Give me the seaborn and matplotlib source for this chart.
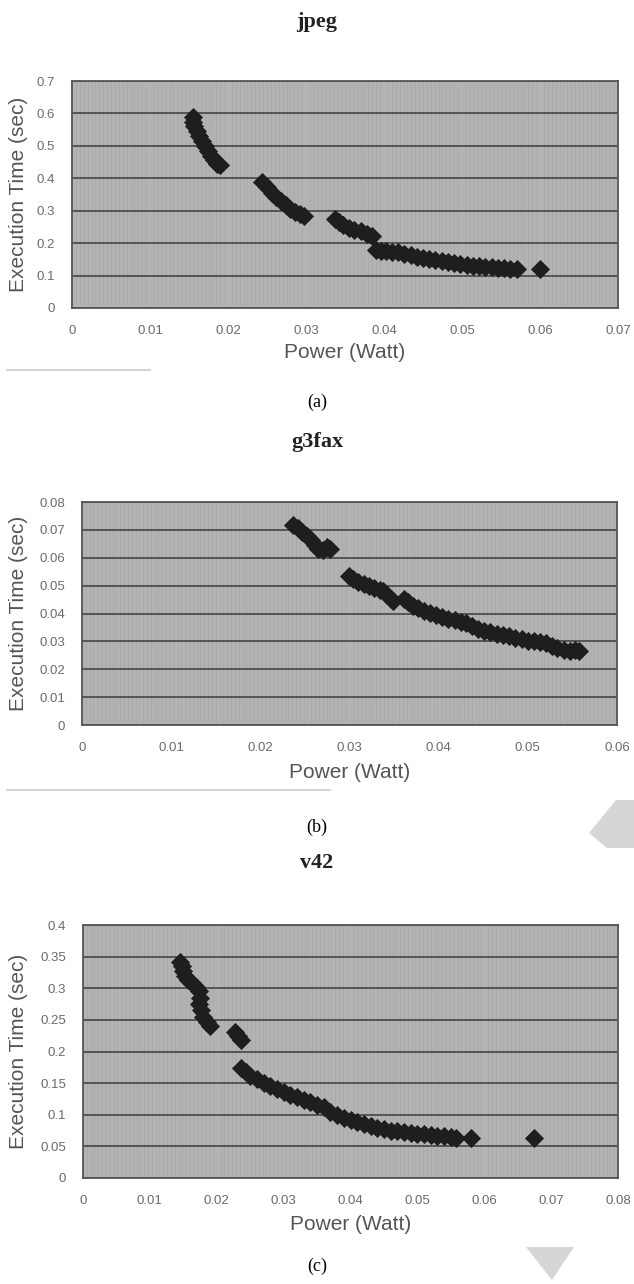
import matplotlib
matplotlib.use("Agg")
import matplotlib.pyplot as plt
import seaborn as sns
import pandas as pd
from matplotlib.patches import Polygon
from matplotlib.ticker import FuncFormatter, MultipleLocator

# ----------------------------
# Data
# ----------------------------
jpeg_power = [0.0155, 0.0155, 0.0157, 0.0160, 0.0163, 0.0167, 0.0170, 0.0174, 0.0178, 0.0182, 0.0186, 0.0190,
              0.0244, 0.0250, 0.0256, 0.0262, 0.0268, 0.0274, 0.0280, 0.0286, 0.0292, 0.0297,
              0.0337, 0.0342, 0.0348, 0.0355, 0.0362, 0.0370, 0.0378, 0.0385,
              0.0390, 0.0396, 0.0403, 0.0410, 0.0418, 0.0426, 0.0434, 0.0442, 0.0450, 0.0458, 0.0466,
              0.0474, 0.0482, 0.0490, 0.0498, 0.0506, 0.0514, 0.0522, 0.0530, 0.0538, 0.0546, 0.0554,
              0.0562, 0.0570, 0.0600]
jpeg_time = [0.590, 0.575, 0.560, 0.545, 0.530, 0.515, 0.500, 0.485, 0.470, 0.455, 0.445, 0.440,
             0.388, 0.372, 0.356, 0.342, 0.329, 0.317, 0.306, 0.297, 0.290, 0.285,
             0.275, 0.266, 0.257, 0.248, 0.242, 0.236, 0.229, 0.222,
             0.180, 0.176, 0.175, 0.174, 0.172, 0.168, 0.163, 0.158, 0.154, 0.150, 0.147,
             0.144, 0.141, 0.139, 0.136, 0.134, 0.131, 0.129, 0.127, 0.125, 0.124, 0.122,
             0.121, 0.120, 0.120]

g3fax_power = [0.0237, 0.0242, 0.0247, 0.0252, 0.0257, 0.0261, 0.0265, 0.0270, 0.0275, 0.0278,
               0.0299, 0.0304, 0.0310, 0.0316, 0.0322, 0.0328, 0.0334, 0.0338, 0.0342, 0.0346, 0.0349,
               0.0361, 0.0366, 0.0371, 0.0377, 0.0383, 0.0390, 0.0397, 0.0404, 0.0411, 0.0418,
               0.0425, 0.0431, 0.0437, 0.0444, 0.0451, 0.0458, 0.0465, 0.0472, 0.0479, 0.0486,
               0.0493, 0.0500, 0.0507, 0.0514, 0.0520, 0.0527, 0.0533, 0.0540, 0.0547, 0.0553, 0.0557]
g3fax_time = [0.0718, 0.0705, 0.0692, 0.0678, 0.0662, 0.0645, 0.0630, 0.0628, 0.0638, 0.0630,
              0.0535, 0.0522, 0.0512, 0.0505, 0.0498, 0.0490, 0.0485, 0.0480, 0.0465, 0.0452, 0.0445,
              0.0452, 0.0440, 0.0428, 0.0418, 0.0410, 0.0402, 0.0395, 0.0388, 0.0381, 0.0375,
              0.0370, 0.0366, 0.0355, 0.0345, 0.0338, 0.0333, 0.0328, 0.0323, 0.0318, 0.0313,
              0.0308, 0.0303, 0.0300, 0.0298, 0.0293, 0.0285, 0.0276, 0.0270, 0.0266, 0.0268, 0.0266]

v42_power = [0.0145, 0.0148, 0.0150, 0.0153, 0.0157, 0.0163, 0.0169, 0.0173, 0.0175, 0.0174, 0.0176, 0.0180,
             0.0185, 0.0190,
             0.0227, 0.0232, 0.0236,
             0.0236, 0.0243, 0.0250, 0.0260, 0.0270, 0.0280, 0.0290, 0.0300, 0.0310, 0.0320, 0.0330,
             0.0340, 0.0350, 0.0360, 0.0370, 0.0380, 0.0390, 0.0400, 0.0410, 0.0420, 0.0430, 0.0440,
             0.0450, 0.0460, 0.0470, 0.0480, 0.0490, 0.0500, 0.0510, 0.0520, 0.0530, 0.0540, 0.0550,
             0.0558, 0.0580, 0.0674]
v42_time = [0.342, 0.335, 0.328, 0.320, 0.313, 0.308, 0.302, 0.295, 0.285, 0.275, 0.265, 0.255,
            0.247, 0.240,
            0.231, 0.224, 0.218,
            0.174, 0.168, 0.162, 0.156, 0.150, 0.145, 0.140, 0.136, 0.132, 0.128, 0.124,
            0.120, 0.116, 0.112, 0.104, 0.099, 0.095, 0.091, 0.088, 0.085, 0.082, 0.079,
            0.077, 0.075, 0.074, 0.072, 0.071, 0.070, 0.069, 0.068, 0.067, 0.066, 0.065,
            0.063, 0.063, 0.063]

titles = ["jpeg", "g3fax", "v42"]
captions = ["(a)", "(b)", "(c)"]
x_limits = [0.07, 0.06, 0.08]
y_limits = [0.7, 0.08, 0.4]
y_steps = [0.1, 0.01, 0.05]

panels = [
    pd.DataFrame({"Power": jpeg_power, "Time": jpeg_time}),
    pd.DataFrame({"Power": g3fax_power, "Time": g3fax_time}),
    pd.DataFrame({"Power": v42_power, "Time": v42_time}),
]

# ----------------------------
# Layout (pixel positions)
# ----------------------------
sns.set_style("white")
plt.rcParams["font.family"] = ["Liberation Sans", "DejaVu Sans"]

fig = plt.figure(figsize=(6.34, 12.84), dpi=100)
W, H = 634, 1284

# left, top, right, bottom in pixels
boxes = [(72, 81, 618, 308), (82, 502, 617, 725), (83, 925, 618, 1178)]
title_y = [22, 442, 863]
xlabel_y = [352, 772, 1224]
caption_y = [402, 827, 1266]


def fmt(v, pos):
    return f"{v:g}"


for i, df in enumerate(panels):
    l, t, r, b = boxes[i]
    ax = fig.add_axes([l / W, 1 - b / H, (r - l) / W, (b - t) / H])
    ax.set_facecolor("#b3b3b3")

    sns.scatterplot(data=df, x="Power", y="Time", ax=ax, marker="D", s=95,
                    color="#1e1e1e", edgecolor="#1e1e1e", linewidth=0, zorder=5)

    ax.set_xlim(0, x_limits[i])
    ax.set_ylim(0, y_limits[i])
    ax.xaxis.set_major_locator(MultipleLocator(0.01))
    ax.yaxis.set_major_locator(MultipleLocator(y_steps[i]))
    ax.xaxis.set_minor_locator(MultipleLocator(x_limits[i] / 140))
    ax.xaxis.set_major_formatter(FuncFormatter(fmt))
    ax.yaxis.set_major_formatter(FuncFormatter(fmt))

    # scanned pattern fill + dark horizontal gridlines
    ax.grid(axis="x", which="minor", color="#aaaaaa", linewidth=0.6)
    ax.grid(axis="y", which="major", color="#3c3c3c", linewidth=1.1)
    ax.set_axisbelow(True)

    ax.tick_params(axis="both", which="major", direction="out", length=4, width=1,
                   color="#555555", labelcolor="#6a6a6a", labelsize=9.5, pad=8)
    ax.tick_params(axis="x", which="minor", length=0)
    for s in ax.spines.values():
        s.set_color("#555555")
        s.set_linewidth(1.3)

    ax.set_xlabel("")
    ax.set_ylabel("Execution Time (sec)", fontsize=15, color="#555555", va="center")
    ax.yaxis.set_label_coords(-(l - 19) / (r - l), 0.5)

    cx = (l + r) / 2 / W
    fig.text(cx, 1 - xlabel_y[i] / H, "Power (Watt)", ha="center", va="center",
             fontsize=15, color="#555555")
    fig.text(0.5, 1 - title_y[i] / H, titles[i], ha="center", va="center",
             fontsize=16, fontweight="bold", color="#222222",
             family=["Liberation Serif", "DejaVu Serif"])
    fig.text(0.5, 1 - caption_y[i] / H, captions[i], ha="center", va="center",
             fontsize=13, color="black", family=["Liberation Serif", "DejaVu Serif"])

# faint scan edges under the first two charts
fig.add_artist(plt.Line2D([7 / W, 150 / W], [1 - 370 / H, 1 - 370 / H], color="#d4d4d4", lw=1.5))
fig.add_artist(plt.Line2D([7 / W, 330 / W], [1 - 790 / H, 1 - 790 / H], color="#d4d4d4", lw=1.5))

# light grey page decorations on the right
chevron = [(589, 833), (616, 800), (634, 800), (634, 848), (607, 848)]
triangle = [(526, 1247), (574, 1247), (552, 1280)]
for poly in (chevron, triangle):
    fig.add_artist(Polygon([(x / W, 1 - y / H) for x, y in poly], closed=True,
                           transform=fig.transFigure, facecolor="#d6d6d6", edgecolor="none"))

fig.savefig("out.png", dpi=100)
